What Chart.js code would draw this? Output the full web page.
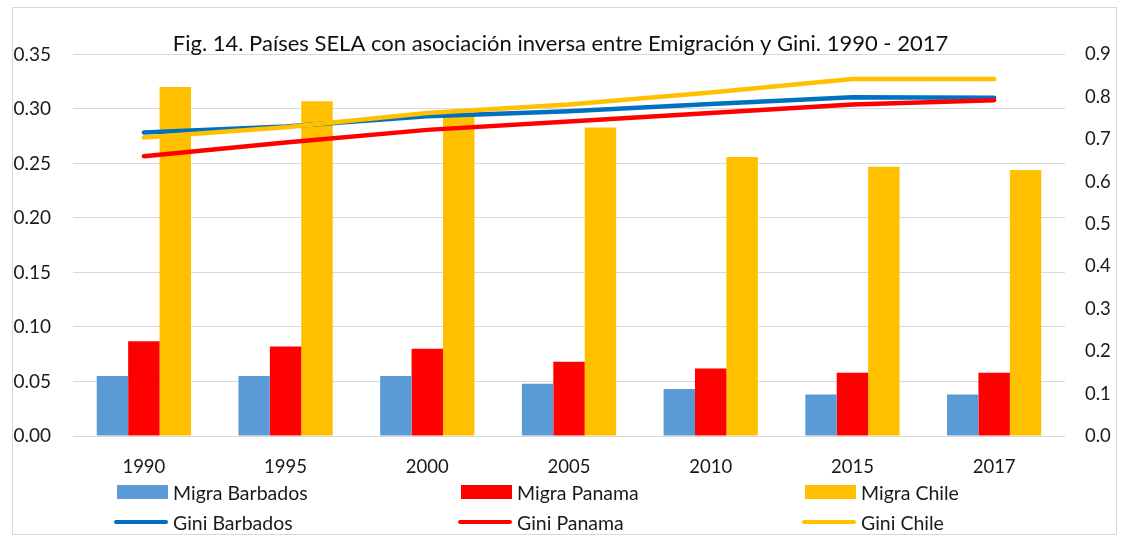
<!DOCTYPE html>
<html>
<head>
<meta charset="utf-8">
<script src="https://cdn.jsdelivr.net/npm/chart.js@4.4.1/dist/chart.umd.min.js"></script>
<style>
	body{margin:0;background:#fff;font-family:Lato, sans-serif;}
	#wrap{position:absolute;left:0;top:0;width:1121px;height:538px;}
	#frame{position:absolute;left:12px;top:7px;width:1105px;height:528px;border:1px solid #d9d9d9;box-sizing:border-box;pointer-events:none;}
	#legend{position:absolute;left:114px;top:477px;display:grid;grid-template-columns:344px 344px 344px;grid-auto-rows:30px;}
	.lg-item{display:flex;align-items:center;font-size:19.5px;color:#1a1a1a;}
	.lg-sw{width:54px;margin-right:5px;}
</style>
</head>
<body>
<div id="wrap">
	<canvas id="chartContainer" width="1121" height="538"></canvas>
	<div id="frame"></div>
	<div id="legend"></div>
</div>
<script>
// data
var years = ['1990', '1995', '2000', '2005', '2010', '2015', '2017'];
var migraBarbados = [0.055, 0.055, 0.055, 0.048, 0.043, 0.038, 0.038];
var migraPanama   = [0.087, 0.082, 0.080, 0.068, 0.062, 0.058, 0.058];
var migraChile    = [0.320, 0.307, 0.295, 0.283, 0.256, 0.247, 0.244];
var giniBarbados  = [0.716, 0.730, 0.754, 0.766, 0.783, 0.799, 0.798];
var giniPanama    = [0.660, 0.692, 0.722, 0.742, 0.762, 0.782, 0.792];
var giniChile     = [0.704, 0.728, 0.762, 0.782, 0.810, 0.842, 0.842];

var textColor = '#1a1a1a';
Chart.defaults.font.family = 'Lato, sans-serif';
Chart.defaults.color = textColor;

var barSet = function(label, data, color){
	return {type:'bar', label:label, data:data, backgroundColor:color, yAxisID:'y', order:5,
		categoryPercentage:0.665, barPercentage:1.0};
};
var lineSet = function(label, data, color, order){
	return {type:'line', label:label, data:data, borderColor:color, backgroundColor:color, yAxisID:'y1',
		order:order, borderWidth:4.5, pointRadius:0, tension:0, borderCapStyle:'round', fill:false};
};

// html legend, two rows of three like the original
var htmlLegend = {
	id:'htmlLegend',
	afterUpdate: function(chart){
		var box = document.getElementById('legend');
		var rows = '';
		chart.data.datasets.forEach(function(d){
			var sw = d.type === 'bar'
				? "<span class='lg-sw' style='height:14px;background:"+d.backgroundColor+";margin-left:3px;width:51px'></span>"
				: "<span class='lg-sw' style='height:4px;border-radius:2px;background:"+d.borderColor+"'></span>";
			rows += "<div class='lg-item'>"+sw+"<span>"+d.label+"</span></div>";
		});
		box.innerHTML = rows;
	}
};

var chart = new Chart(document.getElementById('chartContainer'), {
	data: {
		labels: years,
		datasets: [
			barSet('Migra Barbados', migraBarbados, '#5B9BD5'),
			barSet('Migra Panama', migraPanama, '#FF0000'),
			barSet('Migra Chile', migraChile, '#FFC000'),
			lineSet('Gini Barbados', giniBarbados, '#0070C0', 3),
			lineSet('Gini Panama', giniPanama, '#FF0000', 2),
			lineSet('Gini Chile', giniChile, '#FFC000', 1)
		]
	},
	options: {
		responsive:false,
		animation:false,
		layout:{padding:{top:0, left:0, right:0, bottom:0}},
		plugins:{
			legend:{display:false},
			tooltip:{enabled:false},
			title:{
				display:true,
				text:'Fig. 14. Países SELA con asociación inversa entre Emigración y Gini. 1990 - 2017',
				color:'#111',
				font:{size:22, weight:'normal'},
				padding:{top:31, bottom:-3}
			}
		},
		scales:{
			x:{
				grid:{display:false, drawTicks:false},
				border:{display:false},
				ticks:{padding:20, font:{size:18.5}, color:textColor},
				afterFit:function(scale){ scale.height = 102; }
			},
			y:{
				position:'left',
				min:0, max:0.35,
				ticks:{stepSize:0.05, padding:22, font:{size:19}, color:textColor,
					callback:function(v){ return v.toFixed(2); }},
				grid:{color:'#d9d9d9', lineWidth:1, drawTicks:false},
				border:{display:false},
				afterFit:function(scale){ scale.width = 73; }
			},
			y1:{
				position:'right',
				min:0, max:0.9,
				ticks:{stepSize:0.1, padding:20, font:{size:18.5}, color:textColor,
					callback:function(v){ return v.toFixed(1); }},
				grid:{display:false, drawTicks:false},
				border:{display:false},
				afterFit:function(scale){ scale.width = 56; }
			}
		}
	},
	plugins:[htmlLegend]
});
</script>
</body>
</html>
